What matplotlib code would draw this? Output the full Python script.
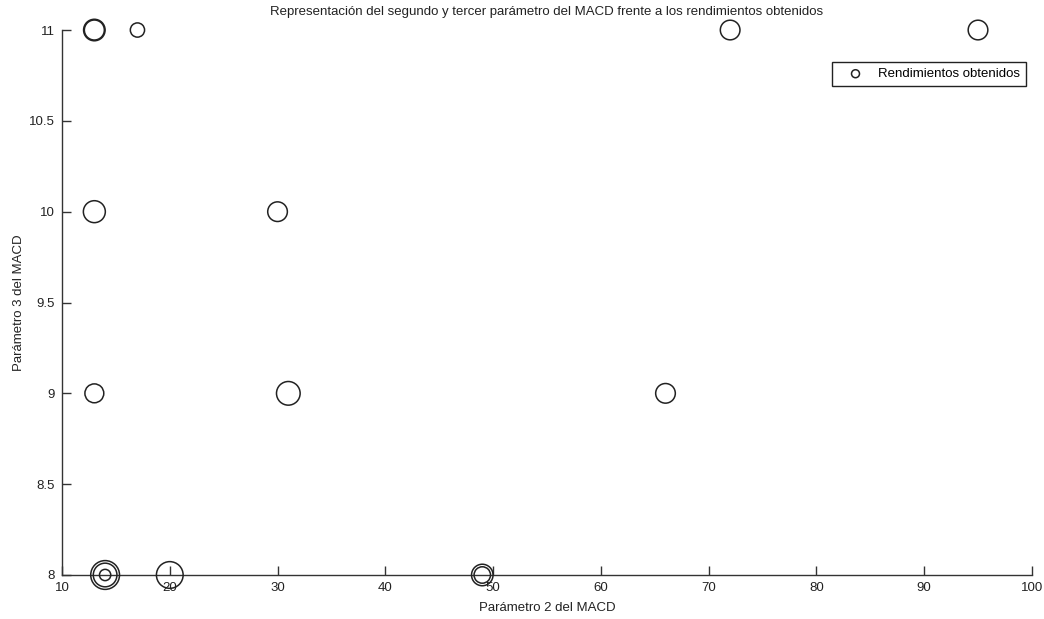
import matplotlib.pyplot as plt

plt.rcParams['font.family'] = ['Liberation Sans', 'DejaVu Sans']

# parametro 2 y 3 del MACD y rendimientos (area del marcador)
param2 = [13, 13, 17, 72, 95, 13, 30, 13, 31, 66, 14, 14, 14, 20, 49, 49]
param3 = [11, 11, 11, 11, 11, 10, 10, 9, 9, 9, 8, 8, 8, 8, 8, 8]
rendimientos = [207, 240, 105, 200, 200, 250, 200, 185, 290, 200, 430, 290, 66, 370, 240, 140]

xticks = [10, 20, 30, 40, 50, 60, 70, 80, 90, 100]
yticks = [8, 8.5, 9, 9.5, 10, 10.5, 11]


def main():
    fig = plt.figure(figsize=(10.44, 6.19), dpi=100)
    ax = fig.add_axes([0.0594, 0.0711, 0.929, 0.8804])

    ax.scatter(param2, param3, s=rendimientos, facecolors='none',
               edgecolors='#222222', linewidths=1.1,
               label='Rendimientos obtenidos', clip_on=False, zorder=3)

    ax.set_xlim(10, 100)
    ax.set_ylim(8, 11)
    ax.set_xticks(xticks)
    ax.set_xticklabels([str(t) for t in xticks])
    ax.set_yticks(yticks)
    ax.set_yticklabels(['8', '8.5', '9', '9.5', '10', '10.5', '11'])

    for side in ['top', 'right']:
        ax.spines[side].set_visible(False)
    for side in ['left', 'bottom']:
        ax.spines[side].set_color('#333333')
        ax.spines[side].set_linewidth(1.0)

    ax.tick_params(direction='in', length=6.5, width=1.0, color='#333333',
                   labelsize=9.5, labelcolor='#222222')
    ax.tick_params(axis='x', pad=5)
    ax.tick_params(axis='y', pad=5)

    ax.set_title('Representación del segundo y tercer parámetro del MACD frente a los rendimientos obtenidos',
                 fontsize=9.5, color='#222222', pad=11)
    ax.set_xlabel('Parámetro 2 del MACD', fontsize=9.5, color='#222222', labelpad=6)
    ax.set_ylabel('Parámetro 3 del MACD', fontsize=9.5, color='#222222', labelpad=3)

    leg = ax.legend(loc='upper right', bbox_to_anchor=(0.9938, 0.9413),
                    fontsize=9.5, fancybox=False, edgecolor='#222222',
                    framealpha=1, borderpad=0.45, handlelength=2.6,
                    handletextpad=0.4, borderaxespad=0, scatterpoints=1)
    leg.get_frame().set_linewidth(1.0)
    leg.legend_handles[0].set_sizes([33])

    fig.savefig('out.png', dpi=100)


if __name__ == "__main__":
    main()
